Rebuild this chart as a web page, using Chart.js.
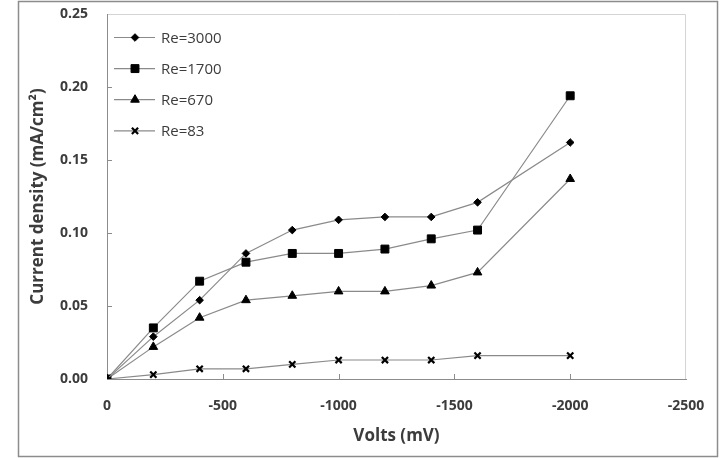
<!DOCTYPE html>
<html>
<head>
<meta charset="utf-8">
<script src="https://cdn.jsdelivr.net/npm/chart.js@4"></script>
<style>
  html, body { margin: 0; padding: 0; background: #fff; }
  #wrap { width: 721px; height: 458px; position: relative; }
</style>
</head>
<body>
<div id="wrap"><canvas id="chart"></canvas></div>
<script>
// --- DATA ---
const volts = [0, -200, -400, -600, -800, -1000, -1200, -1400, -1600, -2000];
const re3000 = [0, 0.029, 0.054, 0.086, 0.102, 0.109, 0.111, 0.111, 0.121, 0.162];
const re1700 = [0, 0.035, 0.067, 0.080, 0.086, 0.086, 0.089, 0.096, 0.102, 0.194];
const re670 = [0, 0.022, 0.042, 0.054, 0.057, 0.060, 0.060, 0.064, 0.073, 0.137];
const re83 = [0, 0.003, 0.007, 0.007, 0.010, 0.013, 0.013, 0.013, 0.016, 0.016];
const seriesNames = ['Re=3000', 'Re=1700', 'Re=670', 'Re=83'];
const xTicks = [0, -500, -1000, -1500, -2000, -2500];
const yTicks = [0, 0.05, 0.10, 0.15, 0.20, 0.25];

// marker look per series
const markers = [
    { style: 'rectRot', radius: 3.8, border: 1 },
    { style: 'rect', radius: 5.6, border: 1 },
    { style: 'triangle', radius: 5, border: 1 },
    { style: 'crossRot', radius: 4.4, border: 2.2 }
];

const LINE = '#8a8a8a';
const TEXT = '#3c3c3c';
const FONT = '"Open Sans", Lato, sans-serif';
Chart.defaults.font.family = FONT;

const toPoints = vals => vals.map((v, i) => ({ x: volts[i], y: v }));

const datasets = [re3000, re1700, re670, re83].map((vals, i) => ({
    label: seriesNames[i],
    data: toPoints(vals),
    borderColor: LINE,
    borderWidth: 1.2,
    pointStyle: markers[i].style,
    pointRadius: markers[i].radius,
    pointBorderWidth: markers[i].border,
    pointBackgroundColor: '#000',
    pointBorderColor: '#000',
    tension: 0
}));

// Frame, plot box and inward tick marks
const framePlugin = {
    id: 'frame',
    beforeDraw(chart) {
        const { ctx, chartArea: a } = chart;
        ctx.save();
        ctx.strokeStyle = '#8c8c8c';
        ctx.lineWidth = 1.5;
        ctx.strokeRect(18.5, 1.5, 699, 455);
        ctx.strokeStyle = '#d4d4d4';
        ctx.lineWidth = 1;
        ctx.beginPath();
        ctx.moveTo(a.left, a.top + 0.5);
        ctx.lineTo(a.right - 0.5, a.top + 0.5);
        ctx.lineTo(a.right - 0.5, a.bottom);
        ctx.stroke();
        ctx.restore();
    },
    afterDraw(chart) {
        const { ctx, chartArea: a, scales } = chart;
        ctx.save();
        ctx.strokeStyle = '#8c8c8c';
        ctx.lineWidth = 1;
        ctx.beginPath();
        xTicks.slice(1, -1).forEach(t => {
            const px = Math.round(scales.x.getPixelForValue(t)) + 0.5;
            ctx.moveTo(px, a.bottom);
            ctx.lineTo(px, a.bottom - 5);
        });
        yTicks.slice(1, -1).forEach(t => {
            const py = Math.round(scales.y.getPixelForValue(t)) + 0.5;
            ctx.moveTo(a.left, py);
            ctx.lineTo(a.left + 5, py);
        });
        ctx.stroke();
        ctx.restore();
    }
};

// Excel style legend: line with marker, then label
const legendPlugin = {
    id: 'lineLegend',
    afterDatasetsDraw(chart) {
        const { ctx, chartArea: a } = chart;
        ctx.save();
        ctx.font = '15px ' + FONT;
        ctx.textBaseline = 'middle';
        seriesNames.forEach((name, i) => {
            const y = a.top + 23.5 + i * 31.1;
            ctx.strokeStyle = LINE;
            ctx.lineWidth = 1.2;
            ctx.beginPath();
            ctx.moveTo(a.left + 7, y);
            ctx.lineTo(a.left + 48, y);
            ctx.stroke();
            ctx.fillStyle = '#000';
            ctx.strokeStyle = '#000';
            ctx.lineWidth = markers[i].border;
            Chart.helpers.drawPoint(ctx, {
                pointStyle: markers[i].style,
                radius: markers[i].radius,
                borderWidth: markers[i].border,
                rotation: 0
            }, a.left + 28, y);
            ctx.fillStyle = TEXT;
            ctx.fillText(name, a.left + 54, y + 1);
        });
        ctx.restore();
    }
};

// drop the extra room Chart.js keeps for half labels, so the plot box is exact
const noEdgePad = s => {
    s.paddingTop = 0; s.paddingBottom = 0;
    s.paddingLeft = 0; s.paddingRight = 0;
};

new Chart(document.getElementById('chart'), {
    type: 'line',
    data: { datasets },
    options: {
        responsive: true,
        maintainAspectRatio: false,
        animation: false,
        layout: { padding: { left: 24, top: 14, right: 35, bottom: 9 } },
        plugins: {
            legend: { display: false },
            tooltip: { enabled: false }
        },
        scales: {
            x: {
                type: 'linear',
                reverse: true,
                min: -2500,
                max: 0,
                afterFit: s => { s.height = 70; noEdgePad(s); },
                afterBuildTicks: s => { s.ticks = xTicks.map(v => ({ value: v })); },
                grid: { display: false, drawTicks: false },
                border: { display: true, color: '#8c8c8c', width: 1 },
                ticks: {
                    padding: 19,
                    color: TEXT,
                    font: { size: 14, weight: 'bold' },
                    maxRotation: 0,
                    callback: v => String(v)
                },
                title: {
                    display: true,
                    text: 'Volts (mV)',
                    color: TEXT,
                    padding: { top: 4, bottom: 3 },
                    font: { size: 17, weight: 'bold' }
                }
            },
            y: {
                min: 0,
                max: 0.25,
                afterFit: s => { s.width = 83; noEdgePad(s); },
                afterBuildTicks: s => { s.ticks = yTicks.map(v => ({ value: v })); },
                grid: { display: false, drawTicks: false },
                border: { display: true, color: '#8c8c8c', width: 1 },
                ticks: {
                    padding: 19,
                    color: TEXT,
                    font: { size: 14, weight: 'bold' },
                    callback: v => Number(v).toFixed(2)
                },
                title: {
                    display: true,
                    text: 'Current density (mA/cm²)',
                    color: TEXT,
                    padding: { top: 4, bottom: 4 },
                    font: { size: 17, weight: 'bold' }
                }
            }
        }
    },
    plugins: [framePlugin, legendPlugin]
});
</script>
</body>
</html>
